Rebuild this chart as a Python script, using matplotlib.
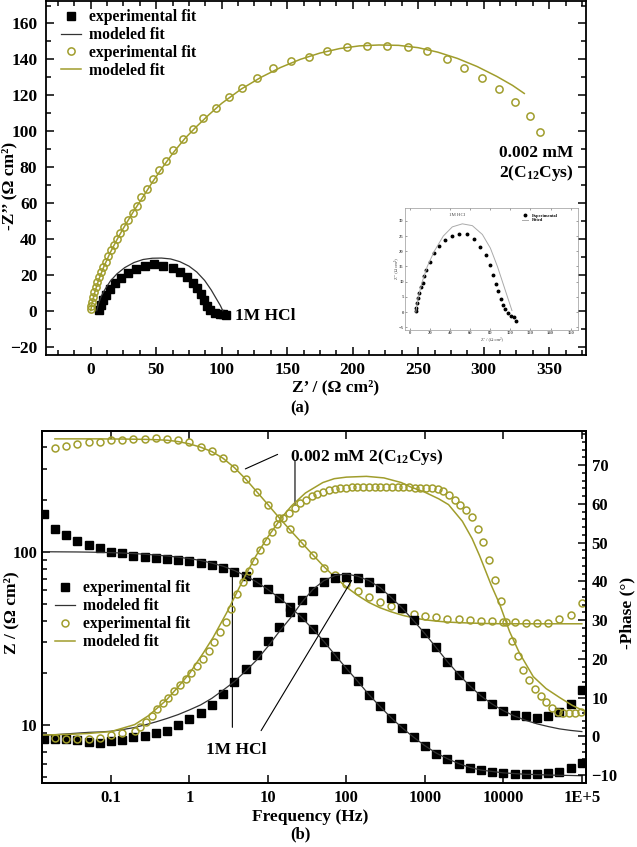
import matplotlib
matplotlib.use("Agg")
import matplotlib.pyplot as plt
from matplotlib.ticker import MultipleLocator, FixedLocator, NullLocator, LogLocator, NullFormatter

plt.rcParams['font.family'] = ['Liberation Serif', 'DejaVu Serif']
plt.rcParams['font.weight'] = 'bold'
plt.rcParams['mathtext.fontset'] = 'custom'
plt.rcParams['mathtext.rm'] = 'Liberation Serif:bold'
plt.rcParams['mathtext.it'] = 'Liberation Serif:bold:italic'
plt.rcParams['mathtext.bf'] = 'Liberation Serif:bold'

OLIVE = '#a09d2c'
DARK = '#333333'

# ---------------- (a) Nyquist data ----------------
blank_re = [6.3, 7.9, 9.6, 11.7, 14.7, 18.5, 22.9, 28.7, 34.6, 41.5, 48.3, 55.4, 62.6,
            68.2, 73.3, 77.9, 81.4, 84.2, 86.7, 89.0, 91.1, 94.9, 98.5, 101.0, 103.5]
blank_im = [0.2, 3.2, 6.0, 8.7, 12.1, 15.2, 18.0, 20.8, 23.0, 25.1, 25.8, 25.1, 24.0,
            21.7, 18.9, 15.6, 12.5, 9.1, 6.0, 2.8, 0.2, -1.3, -1.8, -1.6, -2.5]
blank_fit_re = [4.6, 6, 8, 11, 15, 20, 26, 33, 40, 47, 54, 61, 68, 75, 81, 87, 92, 96, 99, 100.8]
blank_fit_im = [0, 4, 8, 12, 16.5, 20.5, 24, 26.8, 28.5, 29.2, 29.3, 28.8, 27.3, 24.8, 21.5,
                16.8, 11.5, 6.5, 2.8, 0]

inh_re = [0.0, 0.0, 0.6, 1.5, 2.4, 3.7, 4.9, 6.1, 7.7, 9.2, 11.3, 13.5, 15.6, 17.8, 19.9,
          22.4, 25.4, 28.8, 32.1, 35.1, 38.2, 42.7, 47.3, 52.4, 57.5, 63.1, 70.7, 77.9,
          86.0, 95.6, 105.3, 115.7, 126.7, 139.4, 152.7, 166.5, 180.2, 195.4, 210.7, 226.0,
          242.0, 257.0, 271.8, 285.2, 298.9, 311.9, 323.9, 335.4, 343.0]
inh_im = [0.7, 2.6, 5.0, 7.8, 10.6, 13.4, 16.2, 19.0, 21.7, 24.5, 27.3, 30.5, 33.8, 36.6,
          39.8, 43.1, 46.8, 50.6, 54.6, 58.3, 63.2, 67.8, 73.2, 78.4, 83.6, 89.5, 95.5,
          101.4, 107.2, 113.1, 119.1, 124.2, 129.8, 135.0, 139.1, 141.2, 144.8, 147.1,
          147.6, 147.6, 146.9, 144.7, 140.4, 135.0, 129.8, 123.3, 116.3, 108.5, 99.7]
inh_fit_re = [0, 1, 3, 6, 10, 15, 20, 25, 32, 40, 47, 55, 63, 72, 80, 90, 100, 115, 130,
              145, 160, 175, 190, 205, 220, 235, 250, 265, 280, 295, 310, 322, 331]
inh_fit_im = [0, 4, 10, 17, 24.5, 32.5, 39.5, 46, 54.5, 63.5, 71.5, 80, 88, 96, 102, 109,
              115.5, 123.5, 130, 135.5, 140, 143.5, 146, 147.5, 148, 147.8, 146.5, 144,
              140.5, 136, 130.5, 125.5, 121]

# inset (1M HCl only)
ins_re = [5.8, 5.8, 6.8, 7.8, 9.1, 10.8, 12.5, 14.2, 16.2, 19.6, 23.7, 28.8, 34.9, 41.6,
          49.0, 56.5, 63.3, 70.1, 75.5, 79.5, 82.9, 85.6, 88.0, 90.4, 92.4, 94.7, 97.5,
          100.8, 103.2, 105.3]
ins_im = [0.2, 1.3, 3.0, 4.6, 6.2, 8.2, 9.7, 11.7, 13.9, 16.4, 19.4, 21.8, 23.7, 25.1,
          25.8, 25.5, 24.0, 21.5, 18.6, 15.5, 12.2, 9.3, 6.8, 4.3, 2.4, 1.0, -0.3, -1.4,
          -1.6, -2.8]
ins_fit_re = [5.5, 8, 12, 17, 24, 33, 42, 52, 62, 72, 80, 87, 93, 98, 101.5]
ins_fit_im = [0, 5, 10, 15, 20, 25, 28, 29, 28.4, 25.5, 21, 15, 9, 4, 0.5]

# ---------------- (b) Bode data ----------------
freq = [0.0139, 0.0193, 0.0268, 0.0373, 0.0518, 0.072, 0.1, 0.139, 0.193, 0.268, 0.373,
        0.518, 0.72, 1.0, 1.39, 1.93, 2.68, 3.73, 5.18, 7.2, 10, 13.9, 19.3, 26.8, 37.3,
        51.8, 72, 100, 139, 193, 268, 373, 518, 720, 1000, 1390, 1930, 2680, 3730, 5180,
        7200, 10000, 13900, 19300, 26800, 37300, 51800, 72000, 100000]

blank_z = [164.4, 134.7, 124.8, 115.3, 109.3, 104.6, 100, 97.9, 94.8, 93.2, 91.6, 90.4,
           89.6, 88.4, 85.7, 83.8, 80.2, 76.7, 72.7, 67.1, 60.7, 54.3, 48.3, 41.8, 35.7,
           30.2, 25.1, 21.2, 18.0, 15.0, 12.9, 11.0, 9.57, 8.49, 7.56, 6.80, 6.34, 5.93,
           5.67, 5.50, 5.37, 5.26, 5.21, 5.21, 5.21, 5.26, 5.37, 5.62, 6.01]
blank_z_fit = [100, 99.9, 99.8, 99.7, 99.5, 99.2, 98.8, 98.3, 97.6, 96.8, 95.7, 94.5, 93.0,
               91.3, 89.0, 86.0, 82.5, 78.0, 72.7, 66.8, 60.5, 54.2, 48.0, 41.8, 35.8, 30.3,
               25.3, 21.2, 17.9, 15.0, 12.8, 11.0, 9.6, 8.5, 7.6, 6.9, 6.4, 6.0, 5.7, 5.5,
               5.4, 5.3, 5.25, 5.2, 5.18, 5.15, 5.13, 5.12, 5.1]
blank_ph = [-0.8, -0.8, -0.8, -1.0, -1.4, -1.7, -1.2, -1.0, -0.3, 0.1, 0.8, 1.4, 2.8, 4.5,
            5.9, 8.1, 10.9, 13.9, 17.3, 21.0, 24.7, 28.3, 32.1, 35.2, 37.6, 39.7, 40.8,
            41.2, 40.8, 39.9, 38.2, 35.8, 33.0, 30.0, 26.6, 23.0, 19.2, 15.8, 13.0, 10.4,
            8.3, 6.6, 5.5, 5.1, 4.6, 5.1, 6.3, 8.3, 11.9]
blank_ph_fit = [0.3, 0.4, 0.6, 0.8, 1.0, 1.1, 1.3, 1.7, 2.2, 2.9, 3.7, 4.6, 5.6, 6.8, 8.1,
                9.8, 11.9, 14.1, 16.8, 19.7, 23.2, 27.0, 30.5, 34.5, 37.9, 40.2, 41.5, 41.9,
                41.3, 40.2, 38.4, 35.8, 33.0, 29.8, 26.5, 22.9, 19.3, 16.0, 13.0, 10.4, 8.3,
                6.6, 5.2, 4.1, 3.2, 2.5, 1.9, 1.5, 1.2]

inh_freq = freq[1:]
inh_z = [395, 407, 418, 428, 431, 440, 443, 447, 449, 455, 449, 441, 428, 404, 381, 346,
         305, 262, 220, 186, 157, 135, 113, 95.7, 80.9, 73.4, 65.1, 59.3, 54.8, 51.3, 48.6,
         46.5, 43.7, 42.6, 41.8, 41.1, 40.7, 40.4, 40.0, 40.0, 39.5, 39.5, 38.9, 38.6, 38.9,
         40.9, 43.1, 50.8]
inh_z_fit = [448, 448, 448, 448, 448, 447, 447, 446, 445, 443, 440, 432, 419, 401, 378, 346,
             306, 263, 222, 187, 157, 133, 113, 96, 82, 71, 62.5, 56, 51, 47.5, 45, 43, 41.5,
             40.5, 39.8, 39.3, 39.0, 38.8, 38.6, 38.5, 38.4, 38.4, 38.4, 38.4, 38.4, 38.4,
             38.4, 38.4]

inh_ph_freq = [0.0193, 0.0268, 0.0373, 0.0518, 0.072, 0.1, 0.139, 0.2, 0.237, 0.28, 0.33,
               0.39, 0.46, 0.54, 0.64, 0.76, 0.9, 1.06, 1.25, 1.48, 1.75, 2.07, 2.45, 2.9,
               3.43, 4.06, 4.8, 5.68, 6.72, 7.95, 9.4, 11.1, 13.2, 15.6, 18.4, 21.8, 25.8,
               30.5, 36.1, 42.7, 50.5, 59.7, 70.6, 83.5, 98.8, 117, 138, 163, 193, 229, 270,
               320, 379, 448, 530, 627, 741, 877, 1040, 1230, 1450, 1720, 2030, 2400, 2840,
               3360, 3980, 4700, 5560, 6580, 7780, 9200, 10900, 12900, 15200, 18000, 21300,
               25200, 29800, 35300, 41700, 49300, 58300, 69000, 81600, 96500]
inh_ph = [-0.5, -0.6, -0.8, -0.8, -0.5, 0.2, 0.8, 1.3, 2.4, 3.6, 5.2, 7.0, 8.6, 10.0, 11.6,
          13.1, 14.7, 16.4, 18.2, 20.0, 22.0, 24.4, 26.8, 29.5, 32.8, 36.8, 39.8, 42.6,
          45.3, 48.0, 50.5, 52.8, 54.8, 56.3, 57.6, 59.0, 60.2, 61.1, 61.9, 62.6, 63.1,
          63.5, 63.8, 64.0, 64.2, 64.3, 64.4, 64.4, 64.4, 64.4, 64.4, 64.4, 64.3, 64.3,
          64.3, 64.3, 64.2, 64.2, 64.2, 64.1, 63.9, 63.4, 62.3, 61.1, 59.7, 58.3, 56.5,
          53.6, 50.2, 45.5, 40.3, 34.8, 29.4, 24.6, 20.6, 17.2, 14.6, 12.3, 10.3, 8.8, 7.4,
          6.3, 5.9, 5.9, 5.9, 6.3]
inh_ph_fit_freq = [0.0131, 0.02, 0.03, 0.05, 0.1, 0.2, 0.3, 0.5, 0.7, 1, 1.5, 2, 3, 5, 7,
                   10, 15, 20, 30, 50, 70, 100, 180, 300, 500, 650, 1000, 1500, 2000, 3000,
                   4000, 5000, 7000, 9000, 12000, 16000, 24000, 35000, 52000, 75000, 112000]
inh_ph_fit = [0.3, 0.4, 0.5, 0.7, 1.2, 3.0, 5.3, 9.2, 12.5, 16.2, 21.5, 25.5, 32.0, 41.0,
              46.5, 51.5, 56.5, 59.5, 62.8, 65.5, 66.5, 66.9, 67.1, 66.7, 65.5, 64.4, 63.0,
              61.3, 59.8, 55.5, 51.0, 46.5, 39.0, 34.0, 27.0, 21.5, 15.4, 12.3, 10.0, 8.0, 6.3]

freq_ticks = [0.1, 1, 10, 100, 1000, 10000, 1e5]
freq_labels = ['0.1', '1', '10', '100', '1000', '10000', '1E+5']

fig = plt.figure(figsize=(6.37, 8.47), dpi=100)

# ---------------- panel (a) ----------------
ax1 = fig.add_axes([0.0717, 0.5809, 0.848, 0.4179])
ax1.plot(blank_re, blank_im, 's', color='black', ms=5.2, label='experimental fit')
ax1.plot(blank_fit_re, blank_fit_im, '-', color=DARK, lw=0.9, label='modeled fit')
ax1.plot(inh_re, inh_im, 'o', mfc='none', mec=OLIVE, mew=1.1, ms=5.2, label='experimental fit')
ax1.plot(inh_fit_re, inh_fit_im, '-', color=OLIVE, lw=1.1, label='modeled fit')
ax1.set_xlim(-34.4, 378)
ax1.set_ylim(-24.7, 172.5)
ax1.xaxis.set_major_locator(MultipleLocator(50))
ax1.xaxis.set_minor_locator(MultipleLocator(12.5))
ax1.yaxis.set_major_locator(MultipleLocator(20))
ax1.yaxis.set_minor_locator(MultipleLocator(10))
ax1.tick_params(which='both', direction='in', top=True, right=True, labelsize=12.5, width=1.1)
ax1.tick_params(which='major', length=6)
ax1.tick_params(which='minor', length=3.5)
ax1.tick_params(axis='y', pad=6)
ax1.tick_params(axis='x', pad=5)
for s in ax1.spines.values():
    s.set_linewidth(1.3)
ax1.legend(loc='upper left', bbox_to_anchor=(0.028, 0.977), frameon=False, fontsize=11.3,
           handlelength=1.3, handletextpad=0.5, labelspacing=0.12, borderpad=0, borderaxespad=0)
ax1.text(340, 81.5, '0.002 mM\n2(C$_{12}$Cys)', ha='center', va='center', fontsize=12.5,
         linespacing=1.15)
ax1.text(110, -3, '1M HCl', ha='left', va='center', fontsize=12.5)
fig.text(336 / 637, 1 - 387 / 847, 'Z’ / (Ω cm²)', ha='center', va='center', fontsize=12.5)
fig.text(9 / 637, 1 - 186 / 847, '-Z’’ (Ω cm²)', ha='center', va='center', fontsize=12.5,
         rotation=90)
fig.text(300 / 637, 1 - 408 / 847, '(a)', ha='center', va='center', fontsize=12)

# inset
axi = fig.add_axes([0.636, 0.6104, 0.2715, 0.144])
axi.plot(ins_re, ins_im, 'o', color='black', ms=1.8, label='Experimental')
axi.plot(ins_fit_re, ins_fit_im, '-', color='#aaaaaa', lw=0.7, label='Fitted')
axi.set_xlim(-5.1, 167.5)
axi.set_ylim(-5.9, 34.2)
axi.xaxis.set_major_locator(MultipleLocator(20))
axi.yaxis.set_major_locator(MultipleLocator(5))
axi.tick_params(which='both', direction='in', top=True, right=True, labelsize=3.3,
                length=1.5, width=0.4, pad=1, colors='#555555')
for s in axi.spines.values():
    s.set_linewidth(0.5)
    s.set_color('#999999')
axi.text(47, 31.9, '1M HCl', fontsize=3.5, ha='center', va='center', color='#444444',
         fontweight='normal')
axi.legend(loc='upper right', bbox_to_anchor=(0.9, 0.98), fontsize=3.2, frameon=False,
           handlelength=1.5, labelspacing=0.1, borderpad=0.2, markerscale=1.0)
axi.set_xlabel('Z’ / (Ω cm²)', fontsize=3.3, labelpad=0.5, color='#444444')
axi.set_ylabel('Z’’ (Ω cm²)', fontsize=3.3, labelpad=0.5, color='#444444')

# ---------------- panel (b) ----------------
ax2 = fig.add_axes([0.0655, 0.0759, 0.8545, 0.4152])
ax3 = ax2.twinx()
h1, = ax2.plot(freq, blank_z, 's', color='black', ms=5.2, label='experimental fit')
h2, = ax2.plot(freq, blank_z_fit, '-', color=DARK, lw=0.9, label='modeled fit')
h3, = ax2.plot(inh_freq, inh_z, 'o', mfc='none', mec=OLIVE, mew=1.1, ms=5,
               label='experimental fit')
h4, = ax2.plot(inh_freq, inh_z_fit, '-', color=OLIVE, lw=1.1, label='modeled fit')
ax3.plot(freq, blank_ph, 's', color='black', ms=5.2)
ax3.plot(freq, blank_ph_fit, '-', color=DARK, lw=0.9)
ax3.plot(inh_ph_freq, inh_ph, 'o', mfc='none', mec=OLIVE, mew=1.1, ms=5)
ax3.plot(inh_ph_fit_freq, inh_ph_fit, '-', color=OLIVE, lw=1.1)

ax2.set_xscale('log')
ax2.set_yscale('log')
ax2.set_xlim(0.0131, 1.13e5)
ax2.set_ylim(4.65, 497)
ax3.set_ylim(-12, 78.8)
ax2.xaxis.set_major_locator(FixedLocator(freq_ticks))
ax2.set_xticklabels(freq_labels)
ax2.xaxis.set_minor_locator(NullLocator())
ax2.yaxis.set_major_locator(FixedLocator([10, 100]))
ax2.set_yticklabels(['10', '100'])
ax2.yaxis.set_minor_locator(LogLocator(base=10, subs=range(2, 10)))
ax2.yaxis.set_minor_formatter(NullFormatter())
ax3.yaxis.set_major_locator(MultipleLocator(10))
ax3.yaxis.set_minor_locator(MultipleLocator(2))
ax2.tick_params(which='both', direction='in', top=True, labelsize=12, width=1.1)
ax2.tick_params(which='major', length=6)
ax2.tick_params(which='minor', length=3.5)
ax2.tick_params(axis='y', pad=3)
ax2.tick_params(axis='x', pad=5)
ax3.tick_params(which='both', direction='in', labelsize=12, width=1.1, pad=4)
ax3.tick_params(which='major', length=6)
ax3.tick_params(which='minor', length=3)
for a in (ax2, ax3):
    for s in a.spines.values():
        s.set_linewidth(1.3)

ax2.legend(handles=[h1, h2, h3, h4], loc='upper left', bbox_to_anchor=(0.024, 0.575),
           frameon=False, fontsize=11.3, handlelength=1.3, handletextpad=0.5,
           labelspacing=0.12, borderpad=0, borderaxespad=0)

ax2.text(3.9, 7.2, '1M HCl', ha='center', va='center', fontsize=12.5)
ax2.annotate('', xy=(3.52, 79.5), xytext=(3.52, 9.35),
             arrowprops=dict(arrowstyle='-', color='black', lw=0.8))
ax2.annotate('', xy=(121.6, 70.5), xytext=(7.84, 9.0),
             arrowprops=dict(arrowstyle='-', color='black', lw=0.8))
ax2.text(19.1, 350, '0.002 mM 2(C$_{12}$Cys)', ha='left', va='center', fontsize=12.5)
ax2.annotate('', xy=(4.78, 296), xytext=(14.3, 370),
             arrowprops=dict(arrowstyle='-', color='black', lw=0.8))
ax2.annotate('', xy=(22.1, 178), xytext=(22.1, 346),
             arrowprops=dict(arrowstyle='-', color='black', lw=0.8))

fig.text(310 / 637, 1 - 817 / 847, 'Frequency (Hz)', ha='center', va='center', fontsize=12.5)
fig.text(300 / 637, 1 - 834 / 847, '(b)', ha='center', va='center', fontsize=12)
fig.text(11 / 637, 1 - 613 / 847, 'Z / (Ω cm²)', ha='center', va='center', fontsize=12.5,
         rotation=90)
fig.text(627 / 637, 1 - 613 / 847, '-Phase (°)', ha='center', va='center', fontsize=12.5,
         rotation=90)

fig.savefig('out.png', dpi=100)
